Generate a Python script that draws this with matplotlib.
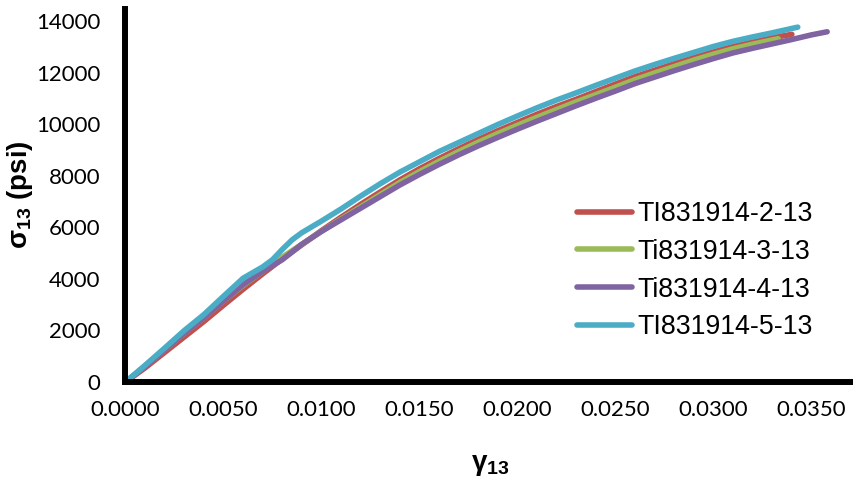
#Shear stress vs shear strain for four Ti831914 specimens
import numpy as np
import matplotlib.pyplot as plt

#Traced curve data (strain, stress in psi)
strain_2 = [0, 0.001, 0.002, 0.003, 0.004, 0.005, 0.006, 0.007, 0.008, 0.009, 0.010, 0.011, 0.012,
            0.013, 0.014, 0.015, 0.016, 0.017, 0.018, 0.019, 0.020, 0.021, 0.022, 0.023, 0.024,
            0.025, 0.026, 0.027, 0.028, 0.029, 0.030, 0.031, 0.032, 0.033, 0.0340]
stress_2 = [0, 550, 1150, 1750, 2350, 2980, 3600, 4200, 4780, 5330, 5880, 6400, 6900,
            7380, 7850, 8280, 8680, 9060, 9420, 9760, 10080, 10400, 10700, 10980, 11280,
            11570, 11860, 12110, 12360, 12600, 12820, 13030, 13200, 13370, 13500]

strain_3 = [0, 0.001, 0.002, 0.003, 0.004, 0.005, 0.006, 0.007, 0.008, 0.009, 0.010, 0.011, 0.012,
            0.013, 0.014, 0.015, 0.016, 0.017, 0.018, 0.019, 0.020, 0.021, 0.022, 0.023, 0.024,
            0.025, 0.026, 0.027, 0.028, 0.029, 0.030, 0.031, 0.032, 0.0333]
stress_3 = [0, 620, 1250, 1900, 2500, 3150, 3750, 4300, 4850, 5350, 5850, 6330, 6800,
            7280, 7750, 8170, 8570, 8950, 9310, 9650, 9970, 10280, 10580, 10880, 11160,
            11450, 11740, 12000, 12250, 12500, 12730, 12940, 13120, 13330]

strain_4 = [0, 0.001, 0.002, 0.003, 0.004, 0.005, 0.006, 0.007, 0.008, 0.009, 0.010, 0.011, 0.012,
            0.013, 0.014, 0.015, 0.016, 0.017, 0.018, 0.019, 0.020, 0.021, 0.022, 0.023, 0.024,
            0.025, 0.026, 0.027, 0.028, 0.029, 0.030, 0.031, 0.032, 0.033, 0.034, 0.035, 0.0358]
stress_4 = [0, 600, 1250, 1900, 2500, 3150, 3780, 4300, 4750, 5350, 5850, 6300, 6750,
            7200, 7650, 8060, 8450, 8820, 9170, 9500, 9820, 10130, 10430, 10730, 11020,
            11300, 11590, 11840, 12090, 12330, 12560, 12780, 12960, 13130, 13300, 13480, 13600]

strain_5 = [0, 0.001, 0.002, 0.003, 0.004, 0.005, 0.006, 0.007, 0.0075, 0.008, 0.0085, 0.009, 0.010,
            0.011, 0.012, 0.013, 0.014, 0.015, 0.016, 0.017, 0.018, 0.019, 0.020, 0.021, 0.022,
            0.023, 0.024, 0.025, 0.026, 0.027, 0.028, 0.029, 0.030, 0.031, 0.032, 0.033, 0.0343]
stress_5 = [0, 650, 1320, 2000, 2620, 3330, 4030, 4470, 4750, 5150, 5520, 5800, 6250,
            6720, 7220, 7700, 8150, 8550, 8950, 9300, 9650, 10000, 10330, 10650, 10950,
            11230, 11520, 11800, 12080, 12330, 12570, 12800, 13030, 13230, 13400, 13560, 13780]

labels = ["TI831914-2-13", "Ti831914-3-13", "Ti831914-4-13", "TI831914-5-13"]
colors = ["#C0504D", "#9BBB59", "#8064A2", "#4BACC6"]

x_ticks = np.arange(0, 0.0351, 0.005)
y_ticks = np.arange(0, 14001, 2000)

#Figure setup
fig = plt.figure(figsize=(8.54, 4.78), dpi=100)
ax = fig.add_axes([125.5/854, 96/478, 1 - 125.5/854, 373.4/478])

series = [(strain_2, stress_2), (strain_3, stress_3), (strain_4, stress_4), (strain_5, stress_5)]
for (sx, sy), lab, col in zip(series, labels, colors):
    ax.plot(sx, sy, color=col, lw=4, label=lab, solid_capstyle="round", solid_joinstyle="round")

ax.set_xlim(0, 0.03717)
ax.set_ylim(0, 14500)
ax.set_xticks(x_ticks)
ax.set_xticklabels([f"{v:.4f}" for v in x_ticks], family="Lato", fontsize=16)
ax.set_yticks(y_ticks)
ax.set_yticklabels([f"{v:d}" for v in y_ticks], family="Lato", fontsize=16)
ax.tick_params(length=0)
ax.tick_params(axis="y", pad=18)
ax.tick_params(axis="x", pad=13)

for side in ["top", "right"]:
    ax.spines[side].set_visible(False)
for side in ["left", "bottom"]:
    ax.spines[side].set_linewidth(4.3)
    ax.spines[side].set_color("black")

plt.rcParams["mathtext.fontset"] = "custom"
plt.rcParams["mathtext.bf"] = "Liberation Sans:bold"
plt.rcParams["mathtext.rm"] = "Liberation Sans:bold"
fig.text(20/854, 1 - 195/478, r"σ$_{\mathbf{13}}$ (psi)", rotation=90, ha="center", va="center",
         family="Liberation Sans", fontweight="bold", fontsize=20)
fig.text(490/854, 1 - 465/478, r"γ$_{\mathbf{13}}$", ha="center", va="center",
         family="Liberation Sans", fontweight="bold", fontsize=20)

ax.legend(loc="upper left", bbox_to_anchor=(577/854, 1 - 201/478), bbox_transform=fig.transFigure,
          frameon=False, prop={"family": "Liberation Sans", "size": 19.3},
          handlelength=2.05, handletextpad=0.2, labelspacing=0.44, borderpad=0, borderaxespad=0)

plt.savefig("out.png", dpi=100)
